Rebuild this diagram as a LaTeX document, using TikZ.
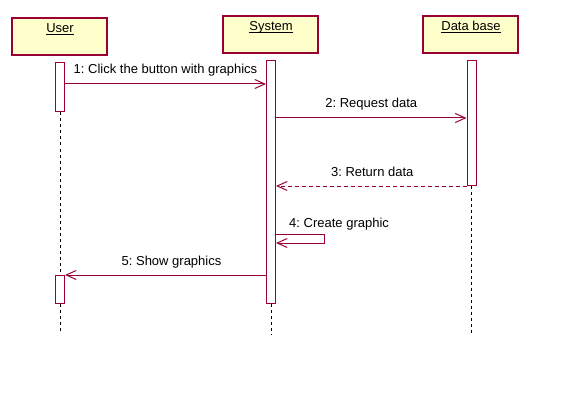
\documentclass[tikz,border=0pt]{standalone}
\usepackage{fontspec}
\setmainfont{Liberation Sans}
\usetikzlibrary{arrows.meta}
\definecolor{umlred}{RGB}{153,0,51}
\definecolor{umlyellow}{RGB}{255,255,204}
\frenchspacing

\begin{document}
\begin{tikzpicture}[x=1pt,y=-1pt,font=\fontsize{13}{15}\selectfont]
                \useasboundingbox (0,0) rectangle (570,401);
                \begin{scope}[every node/.style={draw=umlred,line width=1.2pt,fill=umlyellow,minimum width=95pt,minimum height=37pt,inner sep=0}]
                        \node (User) at (59.5,36.5) {};
                        \node (System) at (270.5,34.5) {};
                        \node (Data) at (470.5,34.5) {};
                \end{scope}
                \begin{scope}[every node/.style={inner sep=0,anchor=base}]
                        \node (UserName) at (60,33) {\underline{\smash{User}}};
                        \node (SystemName) at (271,31) {\underline{\smash{System}}};
                        \node (DataName) at (471,31) {\underline{\smash{Data base}}};
                \end{scope}
                \begin{scope}[every node/.style={draw=umlred,line width=1pt,fill=white,minimum width=9pt,inner sep=0}]
                        \node [minimum height=49pt] (UserAct) at (60,87.5) {};
                        \node [minimum height=28pt] (UserBack) at (60,289) {};
                        \node [minimum height=243pt] (SysAct) at (271,182) {};
                        \node [minimum height=124.5pt] (DataAct) at (471.5,122.75) {};
                \end{scope}
                \coordinate (UserEnd) at (60,332);
                \coordinate (SysEnd) at (271,335);
                \coordinate (DataEnd) at (471.5,335);
                \coordinate (Click) at (0,84);
                \coordinate (Request) at (0,118);
                \coordinate (Return) at (0,186);
                \coordinate (SelfTop) at (324,234);
                \coordinate (SelfBot) at (324,243);
                \coordinate (Show) at (0,275);
                \begin{scope}[every path/.style={black,line width=1pt,dash pattern=on 3pt off 3pt}]
                        \path (UserAct) edge (UserBack);
                        \path (UserBack) edge (UserEnd);
                        \path (SysAct) edge (SysEnd);
                        \path (DataAct) edge (DataEnd);
                \end{scope}
                \begin{scope}[every node/.style={text=black,inner sep=0,anchor=base,yshift=10pt}, every path/.style={umlred,line width=1pt,-{Straight Barb[length=10pt,width=9pt]}}]
                        \path (UserAct.east |- Click) edge node {1: Click the button with graphics} (SysAct.west |- Click);
                        \path (SysAct.east |- Request) edge node {2: Request data} (DataAct.west |- Request);
                        \path (DataAct.west |- Return) edge [dash pattern=on 4pt off 3pt] node [xshift=1pt] {3: Return data} (SysAct.east |- Return);
                        \draw (SysAct.east |- SelfTop) -- (SelfTop) -- (SelfBot) -- (SysAct.east |- SelfBot);
                        \path (SysAct.west |- Show) edge node [xshift=6pt] {5: Show graphics} (UserBack.east |- Show);
                \end{scope}
                \node [inner sep=0,anchor=base west] (CreateText) at (289,227.5) {4: Create graphic};
        \end{tikzpicture}
\end{document}
